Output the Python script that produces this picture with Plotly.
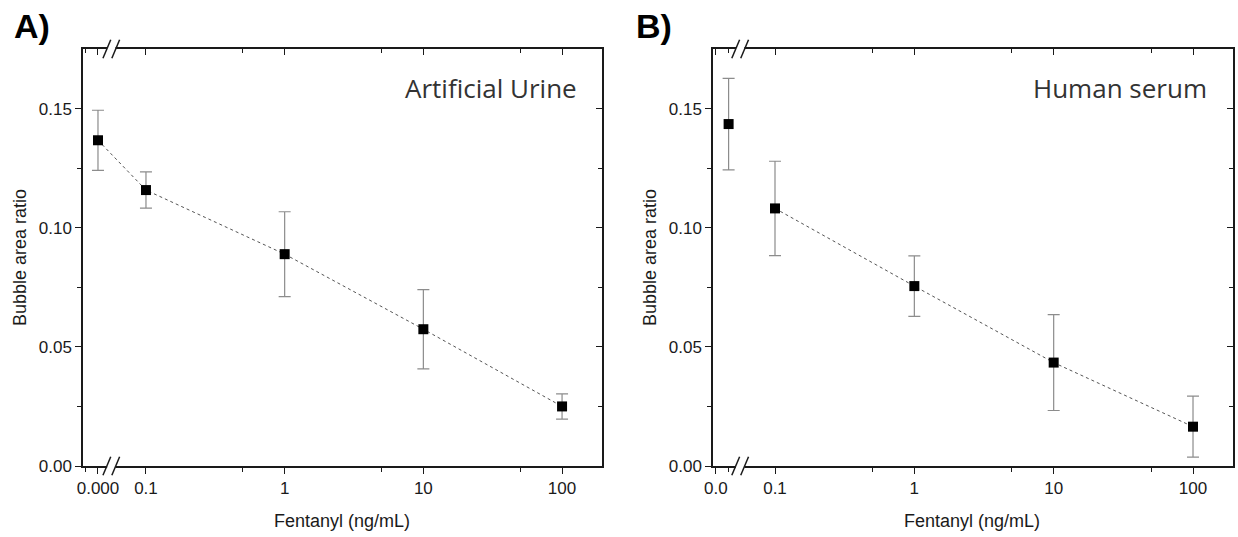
import plotly.graph_objects as go
import numpy as np

# ---- data ----
conc = [0, 0.1, 1, 10, 100]
tick_labels_a = ["0.000", "0.1", "1", "10", "100"]
tick_labels_b = ["0.0", "0.1", "1", "10", "100"]

urine_ratio = [0.1367, 0.1158, 0.0889, 0.0574, 0.0250]
urine_err = [0.0126, 0.0076, 0.0178, 0.0166, 0.0053]

serum_ratio = [0.1435, 0.1081, 0.0755, 0.0434, 0.0165]
serum_err = [0.0192, 0.0198, 0.0127, 0.0201, 0.0128]

# ---- broken-axis placement (blank sample placed left of the break) ----
ZERO_POS_A = -1.346
ZERO_POS_B = -1.333
ZERO_LABEL_B = -1.424
BREAK_POS = -1.25
XRANGE_A = [-1.454, 2.288]
XRANGE_B = [-1.445, 2.287]
YRANGE = [0, 0.175]


def xpos(c, zero_pos):
    return [zero_pos if v == 0 else float(np.log10(v)) for v in c]


xa = xpos(conc, ZERO_POS_A)
xb = xpos(conc, ZERO_POS_B)

FONT = "Liberation Sans, Arial, sans-serif"
AX = "#1a1a1a"
ERR_C = "#8c8c8c"

fig = go.Figure()

fig.add_trace(go.Scatter(x=xa, y=urine_ratio, mode="lines",
                         line=dict(color="#555555", width=1, dash="dot"),
                         xaxis="x", yaxis="y", showlegend=False, hoverinfo="skip"))
fig.add_trace(go.Scatter(x=xa, y=urine_ratio, mode="markers",
                         marker=dict(symbol="square", size=10, color="black"),
                         error_y=dict(type="data", array=urine_err, color=ERR_C,
                                      thickness=1.2, width=6),
                         xaxis="x", yaxis="y", showlegend=False))

fig.add_trace(go.Scatter(x=xb[1:], y=serum_ratio[1:], mode="lines",
                         line=dict(color="#555555", width=1, dash="dot"),
                         xaxis="x2", yaxis="y2", showlegend=False, hoverinfo="skip"))
fig.add_trace(go.Scatter(x=xb, y=serum_ratio, mode="markers",
                         marker=dict(symbol="square", size=10, color="black"),
                         error_y=dict(type="data", array=serum_err, color=ERR_C,
                                      thickness=1.2, width=6),
                         xaxis="x2", yaxis="y2", showlegend=False))

ydom = [1 - 466 / 537, 1 - 49 / 537]
dom_a = [83 / 1238, 602 / 1238]
dom_b = [713 / 1238, 1233 / 1238]

log_major = [-1, 0, 1, 2]
log_minor = [float(np.log10(v)) for v in (0.5, 5, 50)]

tickfont = dict(family=FONT, size=17, color="#1a1a1a")


def xaxis_main(dom, rng, yanchor, zero_label_pos, minor_zero, labels):
    return dict(domain=dom, range=rng, anchor=yanchor, showgrid=False, zeroline=False,
                showline=True, linecolor=AX, linewidth=1.5,
                ticks="outside", ticklen=6, tickwidth=1.3, tickcolor=AX,
                tickmode="array", tickvals=[zero_label_pos] + log_major,
                ticktext=labels, tickfont=tickfont,
                minor=dict(tickmode="array", tickvals=[minor_zero] + log_minor,
                           ticks="outside", ticklen=4, tickwidth=1.2, tickcolor=AX),
                automargin=False, fixedrange=True)


def xaxis_top(dom, rng, yanchor, over, zero_label_pos, minor_zero):
    return dict(domain=dom, range=rng, anchor=yanchor, overlaying=over, side="top",
                showgrid=False, zeroline=False, showline=True, linecolor=AX, linewidth=1.5,
                ticks="inside", ticklen=6, tickwidth=1.3, tickcolor=AX,
                tickmode="array", tickvals=[zero_label_pos] + log_major, showticklabels=False,
                minor=dict(tickmode="array", tickvals=[minor_zero] + log_minor,
                           ticks="inside", ticklen=4, tickwidth=1.2, tickcolor=AX),
                automargin=False, fixedrange=True)


def yaxis_main(xanchor):
    return dict(domain=ydom, range=YRANGE, anchor=xanchor, showgrid=False, zeroline=False,
                showline=True, linecolor=AX, linewidth=1.5,
                ticks="outside", ticklen=6, tickwidth=1.3, tickcolor=AX,
                tickmode="array", tickvals=[0, 0.05, 0.10, 0.15],
                ticktext=["0.00", "0.05", "0.10", "0.15"], tickfont=tickfont,
                minor=dict(tickmode="array", tickvals=[0.025, 0.075, 0.125],
                           ticks="outside", ticklen=4, tickwidth=1.2, tickcolor=AX),
                automargin=False, fixedrange=True)


def yaxis_right(xanchor, over):
    return dict(domain=ydom, range=YRANGE, anchor=xanchor, overlaying=over, side="right",
                showgrid=False, zeroline=False, showline=True, linecolor=AX, linewidth=1.5,
                ticks="inside", ticklen=6, tickwidth=1.3, tickcolor=AX,
                tickmode="array", tickvals=[0, 0.05, 0.10, 0.15], showticklabels=False,
                minor=dict(tickmode="array", tickvals=[0.025, 0.075, 0.125],
                           ticks="inside", ticklen=4, tickwidth=1.2, tickcolor=AX),
                automargin=False, fixedrange=True)


fig.add_trace(go.Scatter(x=[None], y=[None], xaxis="x3", yaxis="y3", showlegend=False))
fig.add_trace(go.Scatter(x=[None], y=[None], xaxis="x4", yaxis="y4", showlegend=False))

fig.update_layout(
    width=1238, height=537,
    margin=dict(l=0, r=0, t=0, b=0),
    paper_bgcolor="white", plot_bgcolor="white",
    xaxis=xaxis_main(dom_a, XRANGE_A, "y", ZERO_POS_A, -1.433, tick_labels_a),
    xaxis2=xaxis_main(dom_b, XRANGE_B, "y2", ZERO_LABEL_B, ZERO_POS_B, tick_labels_b),
    xaxis3=xaxis_top(dom_a, XRANGE_A, "y3", "x", ZERO_POS_A, -1.433),
    xaxis4=xaxis_top(dom_b, XRANGE_B, "y4", "x2", ZERO_LABEL_B, ZERO_POS_B),
    yaxis=yaxis_main("x"),
    yaxis2=yaxis_main("x2"),
    yaxis3=yaxis_right("x3", "y"),
    yaxis4=yaxis_right("x4", "y2"),
    showlegend=False,
)

shapes = []
for xr in ("x", "x2"):
    yr = "y domain" if xr == "x" else "y2 domain"
    for yv in (0, 1):
        shapes.append(dict(type="rect", xref=xr, yref=yr, x0=BREAK_POS - 0.03, x1=BREAK_POS + 0.03,
                           y0=yv - 0.006, y1=yv + 0.006, fillcolor="white", line=dict(width=0),
                           layer="above"))
        for dx in (-0.032, 0.032):
            shapes.append(dict(type="line", xref=xr, yref=yr,
                               x0=BREAK_POS + dx - 0.028, x1=BREAK_POS + dx + 0.028,
                               y0=yv - 0.022, y1=yv + 0.022,
                               line=dict(color=AX, width=1.5), layer="above"))
fig.update_layout(shapes=shapes)

ann = []
ann.append(dict(text="<b>A)</b>", x=12 / 1238, y=1 - 26 / 537, xref="paper", yref="paper",
                xanchor="left", yanchor="middle", showarrow=False,
                font=dict(family=FONT, size=34, color="black")))
ann.append(dict(text="<b>B)</b>", x=634 / 1238, y=1 - 26 / 537, xref="paper", yref="paper",
                xanchor="left", yanchor="middle", showarrow=False,
                font=dict(family=FONT, size=34, color="black")))
ann.append(dict(text="Artificial Urine", x=579 / 1238, y=1 - 88 / 537, xref="paper", yref="paper",
                xanchor="right", yanchor="middle", showarrow=False,
                font=dict(family="Open Sans", size=26, color="#333")))
ann.append(dict(text="Human serum", x=1209 / 1238, y=1 - 88 / 537, xref="paper", yref="paper",
                xanchor="right", yanchor="middle", showarrow=False,
                font=dict(family="Open Sans", size=26, color="#333")))
for cx in (20, 650):
    ann.append(dict(text="Bubble area ratio", x=cx / 1238, y=1 - 258 / 537, xref="paper", yref="paper",
                    xanchor="center", yanchor="middle", textangle=-90, showarrow=False,
                    font=dict(family=FONT, size=18, color="#1a1a1a")))
for cx in (342, 972):
    ann.append(dict(text="Fentanyl (ng/mL)", x=cx / 1238, y=1 - 521 / 537, xref="paper", yref="paper",
                    xanchor="center", yanchor="middle", showarrow=False,
                    font=dict(family=FONT, size=18, color="#1a1a1a")))
fig.update_layout(annotations=ann)

fig.write_html("out.html", config={"displayModeBar": False},
               post_script="document.body.style.margin='0';document.body.style.overflow='hidden';")
